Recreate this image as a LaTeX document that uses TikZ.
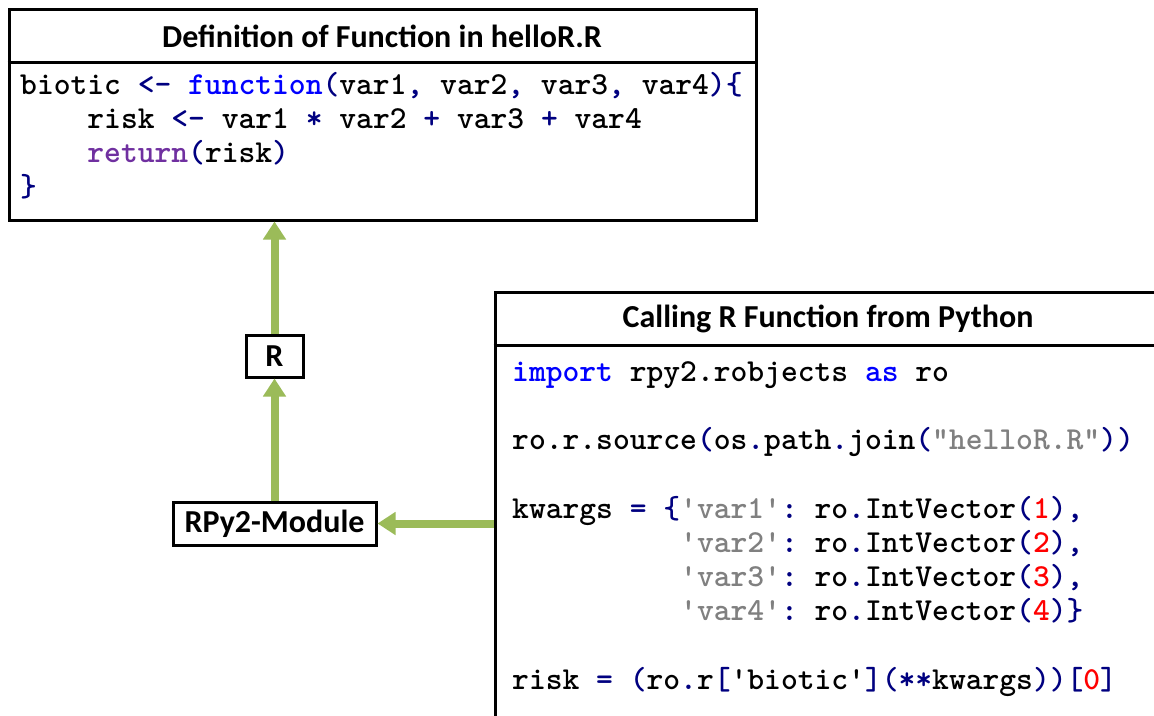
\documentclass[tikz,border=0pt]{standalone}
\usepackage{fontspec}
\setmainfont{Carlito}
\usetikzlibrary{arrows.meta}
\definecolor{kw}{HTML}{0000FF}
\definecolor{op}{HTML}{000080}
\definecolor{pur}{HTML}{7030A0}
\definecolor{strc}{HTML}{808080}
\definecolor{num}{HTML}{FF0000}
\definecolor{arr}{HTML}{9BBB59}
\tikzset{
  frame/.style={draw=black, line width=3pt, fill=white, inner sep=0pt},
  smallbox/.style={draw=black, line width=3pt, fill=white, inner sep=0pt,
    font=\fontsize{32}{38}\selectfont\bfseries},
  title/.style={inner sep=0pt, font=\fontsize{32}{38}\selectfont\bfseries},
  code/.style={anchor=base west, inner sep=0pt, font=\fontsize{32}{34}\selectfont\ttfamily\bfseries\frenchspacing},
  flow/.style={draw=arr, line width=8pt, -{Triangle[width=22pt,length=18pt]}}
}
\begin{document}
\begin{tikzpicture}[x=1pt,y=-1pt]
\clip (0,0) rectangle (1154,715);
\fill[white] (0,0) rectangle (1154,715);
% top box
\node[frame, minimum width=747pt, minimum height=211pt] (defbox) at (382.5,114.5) {};
\draw[line width=3pt] (defbox.west |- 0,62) -- (defbox.east |- 0,62);
\node[title] (deftitle) at (382,36) {Definition of Function in helloR.R};
\node[code] (l1) at (20,94) {biotic \textcolor{op}{<-} \textcolor{kw}{function}\textcolor{op}{(}var1\textcolor{op}{,} var2\textcolor{op}{,} var3\textcolor{op}{,} var4\textcolor{op}{)\{}};
\node[code] (l2) at (87.2,128) {risk \textcolor{op}{<-} var1 \textcolor{op}{*} var2 \textcolor{op}{+} var3 \textcolor{op}{+} var4};
\node[code] (l3) at (87.2,162) {\textcolor{pur}{return}\textcolor{op}{(}risk\textcolor{op}{)}};
\node[code] (l4) at (20,196) {\textcolor{op}{\}}};
% python box
\node[frame, minimum width=667pt, minimum height=448pt] (callbox) at (828.5,516) {};
\draw[line width=3pt] (callbox.west |- 0,345) -- (callbox.east |- 0,345);
\node[title] (calltitle) at (828,319) {Calling R Function from Python};
\node[code] (p1) at (512,381) {\textcolor{kw}{import} rpy2.robjects \textcolor{kw}{as} ro};
\node[code] (p2) at (512,449) {ro.r.source\textcolor{op}{(}os\textcolor{op}{.}path\textcolor{op}{.}join\textcolor{op}{(}\textcolor{strc}{"helloR.R"}\textcolor{op}{))}};
\node[code] (p3) at (512,518) {kwargs \textcolor{op}{=} \textcolor{op}{\{}\textcolor{strc}{'var1'}\textcolor{op}{:} ro\textcolor{op}{.}IntVector\textcolor{op}{(}\textcolor{num}{1}\textcolor{op}{),}};
\node[code] (p4) at (680,552) {\textcolor{strc}{'var2'}\textcolor{op}{:} ro\textcolor{op}{.}IntVector\textcolor{op}{(}\textcolor{num}{2}\textcolor{op}{),}};
\node[code] (p5) at (680,586) {\textcolor{strc}{'var3'}\textcolor{op}{:} ro\textcolor{op}{.}IntVector\textcolor{op}{(}\textcolor{num}{3}\textcolor{op}{),}};
\node[code] (p6) at (680,620) {\textcolor{strc}{'var4'}\textcolor{op}{:} ro\textcolor{op}{.}IntVector\textcolor{op}{(}\textcolor{num}{4}\textcolor{op}{)\}}};
\node[code] (p7) at (512,689) {risk \textcolor{op}{=} \textcolor{op}{(}ro\textcolor{op}{.}r\textcolor{op}{[}'biotic'\textcolor{op}{](**}kwargs\textcolor{op}{))[}\textcolor{num}{0}\textcolor{op}{]}};
% small boxes
\node[smallbox, minimum width=57pt, minimum height=42pt] (rbox) at (274.5,356) {R};
\node[smallbox, minimum width=203pt, minimum height=43pt] (rpy) at (274.5,523.5) {RPy2-Module};
% connectors
\draw[flow] (rbox.north) -- (rbox.north |- defbox.south);
\draw[flow] (rpy.north) -- (rbox.south);
\draw[flow] (callbox.west |- rpy.east) -- (rpy.east);
\end{tikzpicture}
\end{document}
